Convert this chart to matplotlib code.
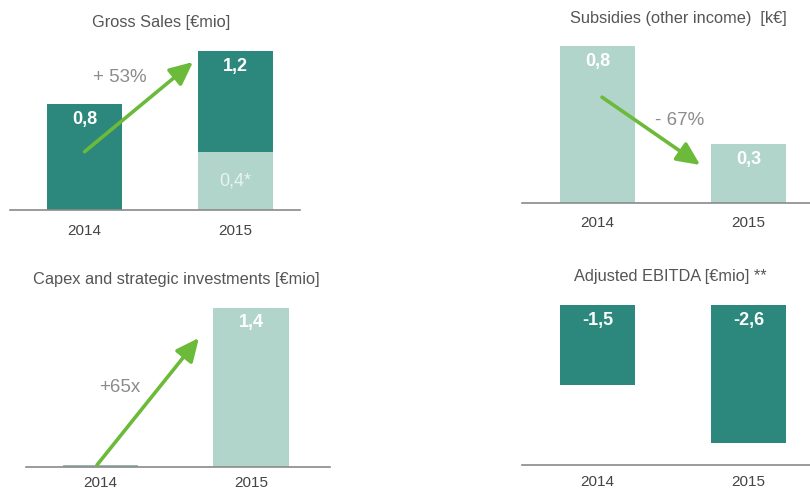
import matplotlib
matplotlib.use("Agg")
import matplotlib.pyplot as plt

# ---------------- data ----------------
years = ["2014", "2015"]

gross_total = [0.8, 1.2]          # €mio
gross_light = [0.0, 0.44]         # light (lower) part of 2015 bar
gross_labels = ["0,8", "1,2"]
gross_light_label = "0,4*"
gross_change = "+ 53%"

subsidies = [0.8, 0.3]            # k€
subsidies_labels = ["0,8", "0,3"]
subsidies_change = "- 67%"

capex = [0.0215, 1.4]             # €mio
capex_labels = ["", "1,4"]
capex_change = "+65x"

ebitda = [-1.5, -2.6]             # €mio
ebitda_labels = ["-1,5", "-2,6"]

titles = ["Gross Sales [€mio]", "Subsidies (other income)  [k€]",
          "Capex and strategic investments [€mio]", "Adjusted EBITDA [€mio] **"]

# ---------------- style ----------------
DARK = "#2c887c"
LIGHT = "#b2d5cb"
CAPEX14 = "#9cb9b1"
GREEN = "#6cba3a"
AXIS = "#8a8a8a"
TXT = "#555555"
YEARTXT = "#444444"
plt.rcParams["font.family"] = ["Liberation Sans", "DejaVu Sans"]

W, H = 810, 490
fig = plt.figure(figsize=(W / 100, H / 100), dpi=100)


def make_ax(l, t, r, b):
    return fig.add_axes([l / W, 1 - b / H, (r - l) / W, (b - t) / H])


def style(ax, pad):
    for s in ["top", "right", "left"]:
        ax.spines[s].set_visible(False)
    ax.spines["bottom"].set_color(AXIS)
    ax.spines["bottom"].set_linewidth(1.2)
    ax.set_yticks([])
    ax.set_xticks(range(len(years)))
    ax.set_xticklabels(years, fontsize=11, color=YEARTXT)
    ax.tick_params(axis="x", length=0, pad=pad)


def vlabel(ax, x, y, s, dy=-15, **kw):
    ax.annotate(s, (x, y), xytext=(0, dy), textcoords="offset pixels",
                ha="center", va="center", **kw)


def arrow(ax, start, end):
    ax.annotate("", xy=end, xytext=start,
                arrowprops=dict(arrowstyle="-|>,head_length=1.4,head_width=0.65",
                                mutation_scale=10, color=GREEN, lw=2.6,
                                shrinkA=0, shrinkB=0))


BW = 0.5
xs = list(range(len(years)))

# ---- Panel 1: Gross Sales ----
ax1 = make_ax(10, 40, 300, 210)
dark_part = [t - l for t, l in zip(gross_total, gross_light)]
ax1.bar(xs, gross_light, width=BW, color=LIGHT)
ax1.bar(xs, dark_part, width=BW, bottom=gross_light, color=DARK)
ax1.set_xlim(-0.495, 1.43)
ax1.set_ylim(0, 170 / 132.5)
style(ax1, 10)
for x, v, s in zip(xs, gross_total, gross_labels):
    vlabel(ax1, x, v, s, fontsize=13, fontweight="bold", color="white")
ax1.text(1, gross_light[1] / 2, gross_light_label, ha="center", va="center",
         fontsize=13, color="#e9f3f0")
arrow(ax1, (0.0, 0.44), (0.72, 1.117))
ax1.text(0.236, 1.0, gross_change, ha="center", va="center", fontsize=13.5, color="#8c8c8c")

# ---- Panel 2: Subsidies ----
ax2 = make_ax(522, 30, 810, 203)
ax2.bar(xs, subsidies, width=BW, color=LIGHT)
ax2.set_xlim(-0.5, 1.407)
ax2.set_ylim(0, 173 / 196)
style(ax2, 9)
for x, v, s in zip(xs, subsidies, subsidies_labels):
    vlabel(ax2, x, v, s, fontsize=13, fontweight="bold", color="white")
arrow(ax2, (0.03, 0.54), (0.68, 0.194))
ax2.text(0.546, 0.423, subsidies_change, ha="center", va="center", fontsize=13.5, color="#8c8c8c")

# ---- Panel 3: Capex ----
ax3 = make_ax(26, 290, 330, 467)
ax3.bar(xs, capex, width=BW, color=[CAPEX14, LIGHT])
ax3.set_xlim(-0.495, 1.525)
ax3.set_ylim(0, 177 / 113.6)
style(ax3, 6.5)
for x, v, s in zip(xs, capex, capex_labels):
    if s:
        vlabel(ax3, x, v, s, fontsize=13, fontweight="bold", color="white")
arrow(ax3, (-0.023, 0.018), (0.654, 1.136))
ax3.text(0.13, 0.704, capex_change, ha="center", va="center", fontsize=13.5, color="#8c8c8c")

# ---- Panel 4: EBITDA ----
ax4 = make_ax(522, 290, 810, 465)
ax4.bar(xs, ebitda, width=BW, color=DARK)
ax4.set_xlim(-0.5, 1.407)
ax4.set_ylim(-160 / 53.2, 15 / 53.2)
style(ax4, 7)
for x, s in zip(xs, ebitda_labels):
    vlabel(ax4, x, 0, s, fontsize=13, fontweight="bold", color="white")

# ---- titles ----
title_pos = [(161, 23), (678, 19), (176, 279), (670, 276)]
for (px, py), t in zip(title_pos, titles):
    fig.text(px / W, 1 - py / H, t, ha="center", va="center", fontsize=11.8, color=TXT)

fig.savefig("out.png", dpi=100)
